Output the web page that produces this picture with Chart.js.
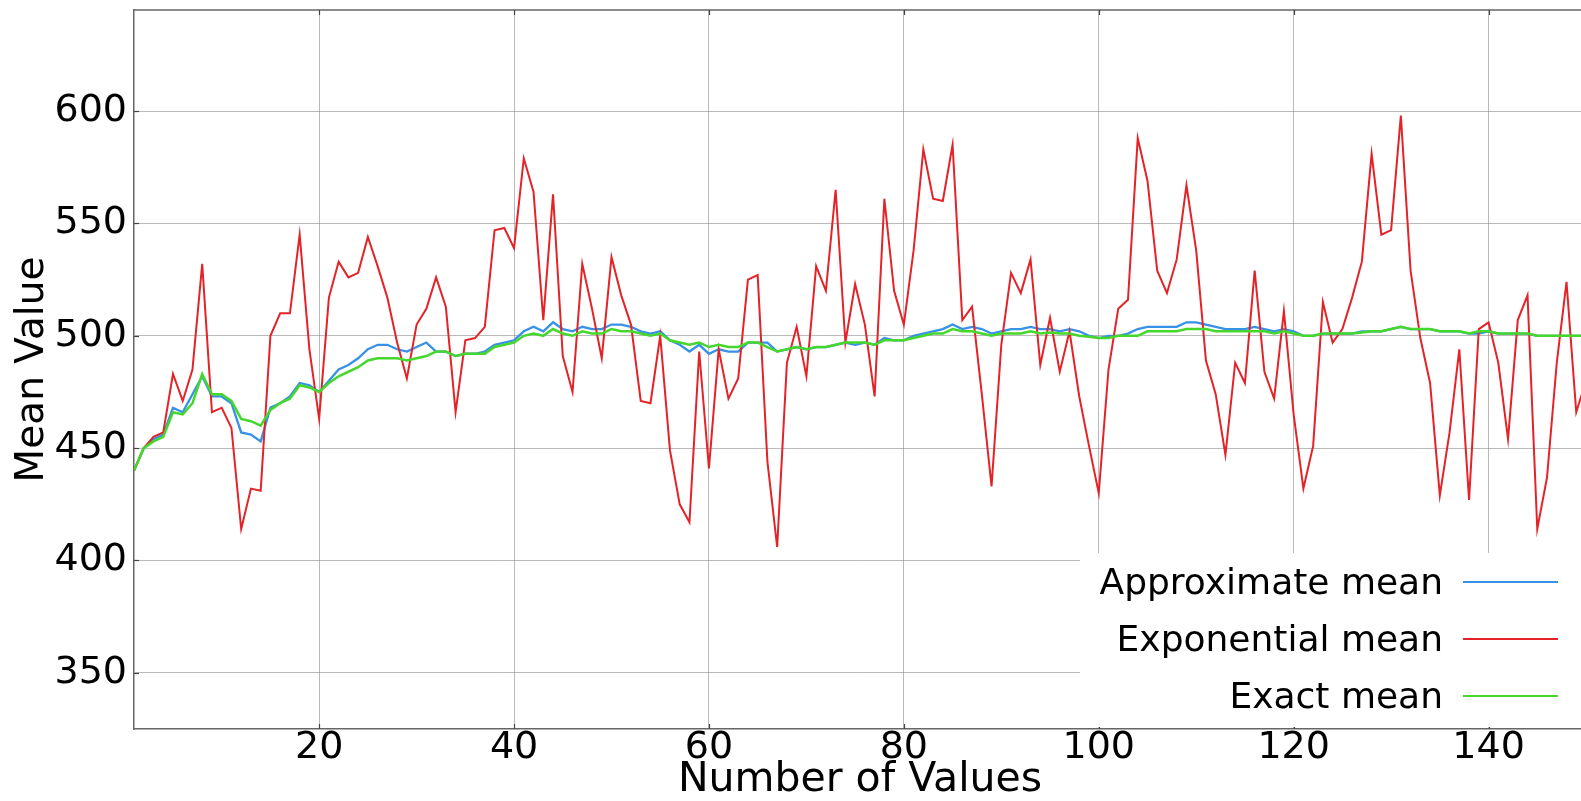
<!DOCTYPE html>
<html>
<head>
<meta charset="utf-8">
<script src="https://cdn.jsdelivr.net/npm/chart.js@4/dist/chart.umd.min.js"></script>
<style>
  html, body { margin: 0; padding: 0; background: #fff; overflow: hidden; width: 1581px; height: 801px; }
  #wrap { position: absolute; left: 0; top: 0; width: 1640px; height: 801px; }
  canvas { display: block; }
</style>
</head>
<body>
<div id="wrap"><canvas id="c" width="1640" height="801"></canvas></div>
<script>
// ---- data (x = 1..150) ----
const seriesLabels = ["Approximate mean", "Exponential mean", "Exact mean"];
const xValues = Array.from({length: 150}, (_, i) => i + 1);
const xTickValues = [20, 40, 60, 80, 100, 120, 140];
const yTickValues = [350, 400, 450, 500, 550, 600];

const approxMean = [
  440,450,454,456,468,466,474,482,473,473,
  470,457,456,453,468,470,473,479,478,475,
  480,485,487,490,494,496,496,494,493,495,
  497,493,493,491,492,492,493,496,497,498,
  502,504,502,506,503,502,504,503,503,505,
  505,504,502,501,502,498,496,493,496,492,
  494,493,493,497,497,497,493,494,495,494,
  495,495,496,497,496,497,496,499,498,498,
  500,501,502,503,505,503,504,503,501,502,
  503,503,504,503,503,502,503,502,500,499,
  500,500,501,503,504,504,504,504,506,506,
  505,504,503,503,503,504,503,502,503,502,
  500,500,501,501,501,501,502,502,502,503,
  504,503,503,503,502,502,502,501,501,502,
  501,501,501,501,500,500,500,500,500,500
];

const exponentialMean = [
  440,450,455,457,483,471,485,532,466,468,
  459,414,432,431,500,510,510,545,494,463,
  517,533,526,528,544,531,517,497,481,505,
  512,526,513,466,498,499,504,547,548,539,
  579,564,507,563,491,475,532,512,490,535,
  518,505,471,470,500,449,425,417,493,441,
  494,472,481,525,527,444,406,488,504,482,
  531,520,565,497,523,505,473,561,520,505,
  538,583,561,560,585,507,513,474,433,496,
  528,519,534,487,508,484,502,473,451,430,
  485,512,516,588,569,529,519,534,567,538,
  489,474,447,488,479,529,484,472,511,465,
  432,451,515,497,503,517,533,581,545,547,
  598,529,499,479,429,457,494,427,503,506,
  488,454,507,518,414,437,488,524,466,480
];

const exactMean = [
  440,450,453,455,466,465,470,483,474,474,
  471,463,462,460,467,470,472,478,477,475,
  479,482,484,486,489,490,490,490,489,490,
  491,493,493,491,492,492,492,495,496,497,
  500,501,500,503,501,500,502,501,501,503,
  502,502,501,500,501,498,497,496,497,495,
  496,495,495,497,497,495,493,494,495,494,
  495,495,496,497,497,497,496,498,498,498,
  499,500,501,501,503,502,502,501,500,501,
  501,501,502,501,501.5,501,501,500,499.6,499,
  499,500,500,500,502,502,502,502,503,503,
  503,502,502,502,502,502,502,501,502,501,
  500,500,501,501,501,501,501.5,502,502,503,
  504,503,503,503,502,502,502,501,502,502,
  501,501,501,501,500,500,500,500,500,500
];

const colors = ["rgb(55,145,230)", "rgb(228,35,40)", "rgb(70,215,45)"];
const FONT = '"DejaVu Sans", "Liberation Sans", sans-serif';

function toPoints(arr) { return arr.map((v, i) => ({x: xValues[i], y: v})); }

const overlayPlugin = {
  id: 'overlay',
  afterDatasetsDraw(chart) {
    const {ctx, chartArea: a, scales} = chart;
    ctx.save();
    // top frame line
    ctx.strokeStyle = '#666';
    ctx.lineWidth = 1.5;
    ctx.beginPath(); ctx.moveTo(a.left, a.top); ctx.lineTo(a.right, a.top); ctx.stroke();
    // inward tick marks
    ctx.lineWidth = 1.2;
    ctx.strokeStyle = '#444';
    xTickValues.forEach(v => {
      const px = Math.round(scales.x.getPixelForValue(v)) + 0.5;
      ctx.beginPath(); ctx.moveTo(px, a.top); ctx.lineTo(px, a.top + 5); ctx.stroke();
      ctx.beginPath(); ctx.moveTo(px, a.bottom); ctx.lineTo(px, a.bottom - 5); ctx.stroke();
    });
    yTickValues.forEach(v => {
      const py = Math.round(scales.y.getPixelForValue(v)) + 0.5;
      ctx.beginPath(); ctx.moveTo(a.left, py); ctx.lineTo(a.left + 5, py); ctx.stroke();
    });
    // legend box
    const lx = 1080, ly = 553;
    ctx.fillStyle = '#ffffff';
    ctx.fillRect(lx, ly, chart.width - lx, a.bottom - ly - 2);
    ctx.font = '36px ' + FONT;
    ctx.textAlign = 'right';
    ctx.textBaseline = 'middle';
    const rows = [582, 639, 696];
    chart.data.datasets.forEach((ds, i) => {
      ctx.fillStyle = '#000';
      ctx.fillText(ds.label, 1443, rows[i] + 3);
      ctx.strokeStyle = ds.borderColor;
      ctx.lineWidth = 2;
      ctx.beginPath(); ctx.moveTo(1463, rows[i]); ctx.lineTo(1558, rows[i]); ctx.stroke();
    });
    ctx.restore();
  }
};

const gridCommon = { color: 'rgba(140,140,140,0.6)', lineWidth: 1, drawTicks: false };

new Chart(document.getElementById('c'), {
  type: 'line',
  data: {
    datasets: [
      { label: seriesLabels[0], data: toPoints(approxMean), borderColor: colors[0], borderWidth: 2.3, order: 3 },
      { label: seriesLabels[1], data: toPoints(exponentialMean), borderColor: colors[1], borderWidth: 2, order: 2 },
      { label: seriesLabels[2], data: toPoints(exactMean), borderColor: colors[2], borderWidth: 2.5, order: 1 }
    ]
  },
  options: {
    responsive: false,
    animation: false,
    devicePixelRatio: 1,
    elements: { point: { radius: 0 }, line: { tension: 0, fill: false } },
    layout: { padding: { top: 10, right: 54, bottom: 0, left: 0 } },
    plugins: { legend: { display: false }, tooltip: { enabled: false } },
    scales: {
      x: {
        type: 'linear',
        min: 1, max: 150,
        afterBuildTicks: s => { s.ticks = xTickValues.map(v => ({value: v})); },
        afterFit: s => { s.height = 72; s.paddingLeft = 0; s.paddingRight = 0; },
        grid: Object.assign({}, gridCommon, { borderDash: [4, 2] }),
        border: { display: true, color: '#666', width: 1.5 },
        ticks: { color: '#000', font: { family: FONT, size: 38, lineHeight: 1 }, padding: 0, maxRotation: 0 },
        title: { display: true, text: 'Number of Values', color: '#000', font: { family: FONT, size: 41, lineHeight: 1 }, padding: { top: 0, bottom: 0 } }
      },
      y: {
        type: 'linear',
        min: 325, max: 645,
        afterBuildTicks: s => { s.ticks = yTickValues.map(v => ({value: v})); },
        afterFit: s => { s.width = 134; s.paddingTop = 0; s.paddingBottom = 0; },
        grid: Object.assign({}, gridCommon, { borderDash: [4, 2] }),
        border: { display: true, color: '#666', width: 1.5 },
        ticks: { color: '#000', font: { family: FONT, size: 38, lineHeight: 1 }, padding: 7 },
        title: { display: true, text: 'Mean Value', color: '#000', font: { family: FONT, size: 39, lineHeight: 1 }, padding: { top: 13, bottom: 0 } }
      }
    }
  },
  plugins: [overlayPlugin]
});
</script>
</body>
</html>
